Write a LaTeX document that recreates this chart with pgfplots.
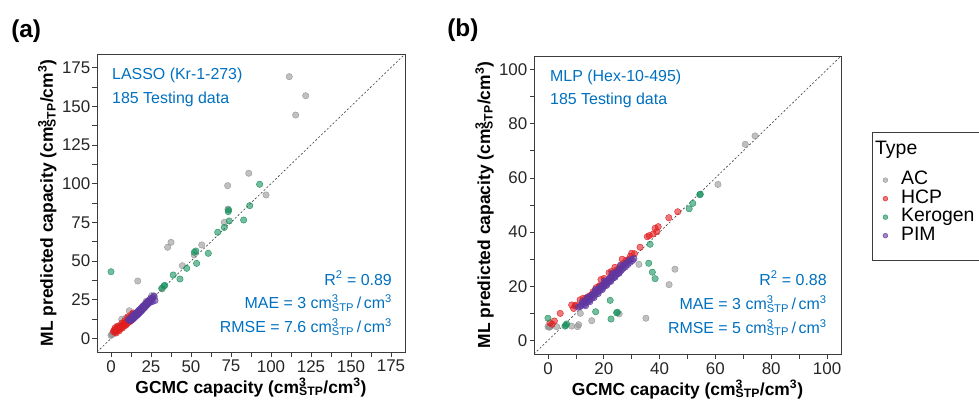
\documentclass[border=0pt]{standalone}
\usepackage{fontspec}
\setmainfont{Liberation Sans}
\usepackage{pgfplots}
\pgfplotsset{compat=1.18}
\definecolor{acc}{RGB}{150,150,150}
\definecolor{hcp}{RGB}{225,30,32}
\definecolor{ker}{RGB}{25,145,95}
\definecolor{pim}{RGB}{95,55,160}
\definecolor{annot}{RGB}{0,112,192}
\definecolor{frame}{RGB}{60,60,60}
\newcommand{\unitcc}{cm\rlap{\textsuperscript{3}}\textsubscript{STP}/cm\textsuperscript{3}}
\newcommand{\unitsp}{cm\rlap{\textsuperscript{3}}\textsubscript{STP}\,/\,cm\textsuperscript{3}}
\tikzset{ann/.style={text=annot, font=\fontsize{16}{16}\selectfont, inner sep=0pt}}
\pgfplotsset{
  common/.style={
    scale only axis, clip=false,
    axis line style={draw=frame, line width=0.9bp},
    tick align=outside, xtick pos=bottom, ytick pos=left,
    major tick length=4.5bp, minor tick length=4.5bp,
    every tick/.style={draw=frame, line width=0.7bp},
    minor tick num=1,
    tick label style={font=\fontsize{17}{17}\selectfont, text=black!85},
    /pgf/number format/assume math mode=true,
    xticklabel style={inner sep=2bp, yshift=-1.5bp},
    yticklabel style={inner sep=2bp},
    label style={font=\bfseries\fontsize{17.5}{17.5}\selectfont},
    xlabel style={at={(axis description cs:0.5,-0.1376)}, anchor=base, inner sep=0pt},
    ylabel style={at={(axis description cs:-0.143,0.5)}, anchor=base, inner sep=0pt},
    xlabel={GCMC capacity (\unitcc)},
    ylabel={ML predicted capacity (\unitcc)},
    legend image code/.code={\path (-10bp,0bp) (14.5bp,0bp); \draw[#1, only marks, mark size=2.4bp] plot coordinates {(0bp,0bp)};},
  },
  pts/.style={only marks, mark=*, mark size=3.2bp, color=#1, mark options={draw=none, fill=#1, fill opacity=0.6}},
}
\begin{document}
\begin{tikzpicture}
\useasboundingbox (0,0) rectangle (979bp,401bp);
% ---------------- panel (a)
\begin{axis}[common, at={(97bp,49bp)}, anchor=south west, width=308bp, height=298bp,
  xmin=-8.75, xmax=183.75, ymin=-8.75, ymax=183.75,
  xtick={0,25,...,175}, ytick={0,25,...,175}]
\addplot[pts=acc] coordinates {
(111.4,169.1) (121.7,156.8) (115.4,144.3) (86.1,106.7) (72.9,98.7) (96.9,92.7)
(73.1,83.6) (70.8,75.0) (37.5,62.1) (35.4,58.9) (56.7,60.4) (52,54) (44.6,47.0)
(16.7,37.1) (25.4,27.6) (27.1,27.0) (32,32) (11.4,17.9) (6.7,12.4) (9,13) (4,8)
(1,3) (0.5,2.5) (2,4) (1.5,3.2) (0,2) (0.8,2.8) (1.2,3.4) (22,24) (20,21) (14,15) (3,5) (8,10)
};
\addplot[pts=hcp] coordinates {
(1.5,4.5) (2.0,5.5) (2.5,4.0) (3.0,5.0) (3.5,6.5) (4.0,5.0) (4.5,6.0) (5.0,7.5)
(5.5,6.0) (6.0,7.0) (6.5,8.5) (7.0,7.5) (7.5,9.0) (8.0,8.0) (8.5,10.0) (9.0,9.0)
(9.5,10.5) (10.0,9.5) (10.5,11.5) (11.0,10.5) (11.5,12.0) (12.0,11.0) (12.5,13.0)
(13.0,12.0) (13.5,14.0) (14.0,13.0) (14.5,15.0) (15.0,14.5) (3.2,3.5) (5.2,5.0)
(7.2,6.8) (9.2,8.5) (11.2,13.5) (12.8,15.5) (8.8,11.5) (6.8,10) (4.8,8) (10.5,14)
(2.7,7.0) (13.8,16.5)
};
\addplot[pts=ker] coordinates {
(0,43.1) (92.9,99.6) (86.7,85.8) (73.3,81.9) (73.5,83) (82.9,76.5) (73.9,75.9)
(70.8,71.7) (66.7,68.6) (52.1,55.7) (53,56.5) (60.8,55.0) (53.5,48.5) (47.3,45.3)
(38.9,41.0) (43.1,38.4) (33.1,33.9) (33.6,34.3) (31.7,32.4)
};
\addplot[pts=pim] coordinates {
(12.0,11.5) (12.4,12.8) (12.8,11.8) (13.2,13.5) (13.5,12.3) (13.9,13.9) (14.2,13.0)
(14.5,14.6) (14.8,13.6) (15.1,15.3) (15.4,14.2) (15.7,15.5) (16.0,14.8) (16.2,16.3)
(16.5,15.2) (16.8,16.6) (17.0,15.8) (17.3,17.2) (17.5,16.2) (17.8,17.6) (18.0,16.9)
(18.2,18.2) (18.5,17.3) (18.7,18.6) (19.0,17.8) (19.2,19.3) (19.5,18.4) (19.7,19.8)
(20.0,19.0) (20.2,20.4) (20.5,19.5) (20.7,20.9) (21.0,20.0) (21.2,21.5) (21.5,20.6)
(21.7,22.0) (22.0,21.2) (22.3,22.6) (22.6,21.8) (22.9,23.2) (23.2,22.4) (23.5,23.7)
(23.8,23.0) (24.1,24.2) (24.4,23.4) (12.6,13.2) (13.6,14.6) (14.6,15.6) (15.6,16.4)
(16.6,17.4) (17.6,18.4) (18.6,19.4) (19.6,20.4) (20.6,21.4) (21.6,22.6) (22.6,23.6)
(23.6,24.6) (13.0,12.5) (14.0,13.5) (15.0,14.5) (16.0,15.5) (17.0,16.5) (18.0,17.5)
(19.0,18.5) (20.0,19.5) (21.0,20.5) (22.0,21.5) (23.0,22.5) (24.0,23.5) (25.0,24.5)
(25.5,25.5) (26.2,26.5) (26.8,27.5) (25.8,23.8) (27.5,24.5) (24.8,25.8) (11.5,12.5) (11.0,12.0)
};
\addplot[forget plot, frame, line width=0.6bp, dash pattern=on 2bp off 2bp] coordinates {(-8.75,-8.75) (183.75,183.75)};
\node[anchor=base west, font=\bfseries\fontsize{24.5}{24.5}\selectfont, inner sep=0pt] at (axis description cs:-0.279,1.057) {(a)};
\node[ann, anchor=base west] at (axis description cs:0.0487,0.9128) {LASSO (Kr-1-273)};
\node[ann, anchor=base west] at (axis description cs:0.0487,0.8345) {185 Testing data};
\node[ann, anchor=base east] at (axis description cs:0.958,0.2248) {R\textsuperscript{2} = 0.89};
\node[ann, anchor=base east] at (axis description cs:0.958,0.1443) {MAE = 3 \unitsp};
\node[ann, anchor=base east] at (axis description cs:0.958,0.0638) {RMSE = 7.6 \unitsp};
\end{axis}
% ---------------- panel (b)
\begin{axis}[common, at={(534bp,47bp)}, anchor=south west, width=307bp, height=298bp,
  xmin=-5, xmax=105, ymin=-5, ymax=105,
  xtick={0,20,...,100}, ytick={0,20,...,100},
  legend cell align=left,
  legend style={at={(1.1107,0.6151)}, anchor=north west, draw=none, fill=none,
    font=\fontsize{19.5}{19.5}\selectfont, inner sep=0pt, row sep=0pt,
    column sep=0pt, nodes={inner xsep=1bp, inner ysep=0.5bp, text height=13.5bp, text depth=4bp}}]
\draw[frame, line width=0.7bp, fill=white] (axis description cs:1.101,0.745) rectangle (axis description cs:1.56,0.3154);
\node[anchor=base west, font=\fontsize{19.5}{19.5}\selectfont, inner sep=0pt] at (axis description cs:1.1107,0.6678) {Type};
\addplot[pts=acc] coordinates {
(74.2,75.5) (70.7,72.4) (60.9,57.6) (45.5,26.3) (43.4,20.6) (32.6,28.1) (35.1,8.2)
(25.5,9.8) (15.7,7.3) (11.6,10.0) (11.0,5.8) (10.6,5.1) (8.5,5.3) (3.1,5.1) (0.7,5.1)
(0,5.1) (0.3,5.0) (1,5.2) (0.5,4.9)
};
\addlegendentry{AC}
\addplot[pts=hcp] coordinates {
(0.7,6.5) (1.5,6.0) (2.3,7.2) (4.4,10.0) (8.5,13.1) (9.7,12.8) (9.2,11.8) (12.7,15.6)
(13.5,15.5) (14.5,16.2) (15.5,16.8) (16.2,18.0) (17.3,19.5) (18.4,20.1) (18.8,20.3)
(19.8,20.1) (20.1,22.9) (20.8,21.8) (21.9,25.0) (22.5,23.6) (23.3,24.8) (24.0,27.0)
(24.6,26.0) (25.3,26.4) (26.6,30.0) (27.2,28.5) (28.0,29.5) (28.8,29.8) (30.0,32.2)
(31.0,32.0) (33.0,34.4) (35.6,38.3) (36.3,38.7) (37.7,39.3) (39.0,40.1) (38.4,41.4)
(39.5,42.0) (43.3,45.3) (46.5,47.5) (11.5,15.0) (10.0,13.0) (19.0,22.5) (22.8,25.5)
(26.0,27.5) (29.5,31.0)
};
\addlegendentry{HCP}
\addplot[pts=ker] coordinates {
(0,8.2) (6.7,6.1) (6.1,5.3) (6.4,5.6) (17.1,10.6) (22.3,14.8) (24.6,10.2) (24.9,10.4)
(22.6,7.9) (36.6,35.5) (36.1,28.5) (37.4,25.2) (38.4,22.8) (50.6,48.6) (51.9,50.6)
(54.6,54.0) (54.4,53.8)
};
\addlegendentry{Kerogen}
\addplot[pts=pim] coordinates {
(12.0,13.0) (12.5,13.8) (13.0,13.2) (13.3,14.6) (13.7,13.9) (14.0,15.2) (14.4,14.5)
(14.8,15.9) (15.1,15.0) (15.5,16.6) (15.8,15.8) (16.2,17.2) (16.5,16.5) (16.9,17.9)
(17.2,17.2) (17.6,18.6) (17.9,17.9) (18.3,19.3) (18.6,18.5) (19.0,19.9) (19.3,19.2)
(19.7,20.6) (20.0,19.9) (20.4,21.3) (20.7,20.5) (21.1,22.0) (21.4,21.2) (21.8,22.6)
(22.1,21.9) (22.5,23.3) (22.8,22.6) (23.2,24.0) (23.5,23.2) (23.9,24.6) (24.2,23.9)
(24.6,25.3) (24.9,24.6) (25.3,26.0) (25.6,25.2) (26.0,26.6) (26.3,25.9) (26.7,27.3)
(27.0,26.6) (27.4,28.0) (27.8,27.2) (28.2,28.7) (28.6,28.0) (29.0,29.4) (29.4,28.8)
(29.8,30.0) (30.3,29.5) (30.8,30.2) (13.5,12.8) (15.0,14.3) (16.5,15.8) (18.0,17.3)
(19.5,18.8) (21.0,20.3) (22.5,21.8) (24.0,23.3) (25.5,24.8) (14.2,16.0) (17.0,18.8)
(20.2,22.0) (23.0,24.8) (26.0,27.8) (12.3,14.3) (11.5,12.5) (10.8,12.3)
};
\addlegendentry{PIM}
\addplot[forget plot, frame, line width=0.6bp, dash pattern=on 2bp off 2bp] coordinates {(-5,-5) (105,105)};
\node[anchor=base west, font=\bfseries\fontsize{24.5}{24.5}\selectfont, inner sep=0pt] at (axis description cs:-0.283,1.0638) {(b)};
\node[ann, anchor=base west] at (axis description cs:0.052,0.9138) {MLP (Hex-10-495)};
\node[ann, anchor=base west] at (axis description cs:0.052,0.8356) {185 Testing data};
\node[ann, anchor=base east] at (axis description cs:0.954,0.2315) {R\textsuperscript{2} = 0.88};
\node[ann, anchor=base east] at (axis description cs:0.954,0.1477) {MAE = 3 \unitsp};
\node[ann, anchor=base east] at (axis description cs:0.954,0.0695) {RMSE = 5 \unitsp};
\end{axis}
\end{tikzpicture}
\end{document}
